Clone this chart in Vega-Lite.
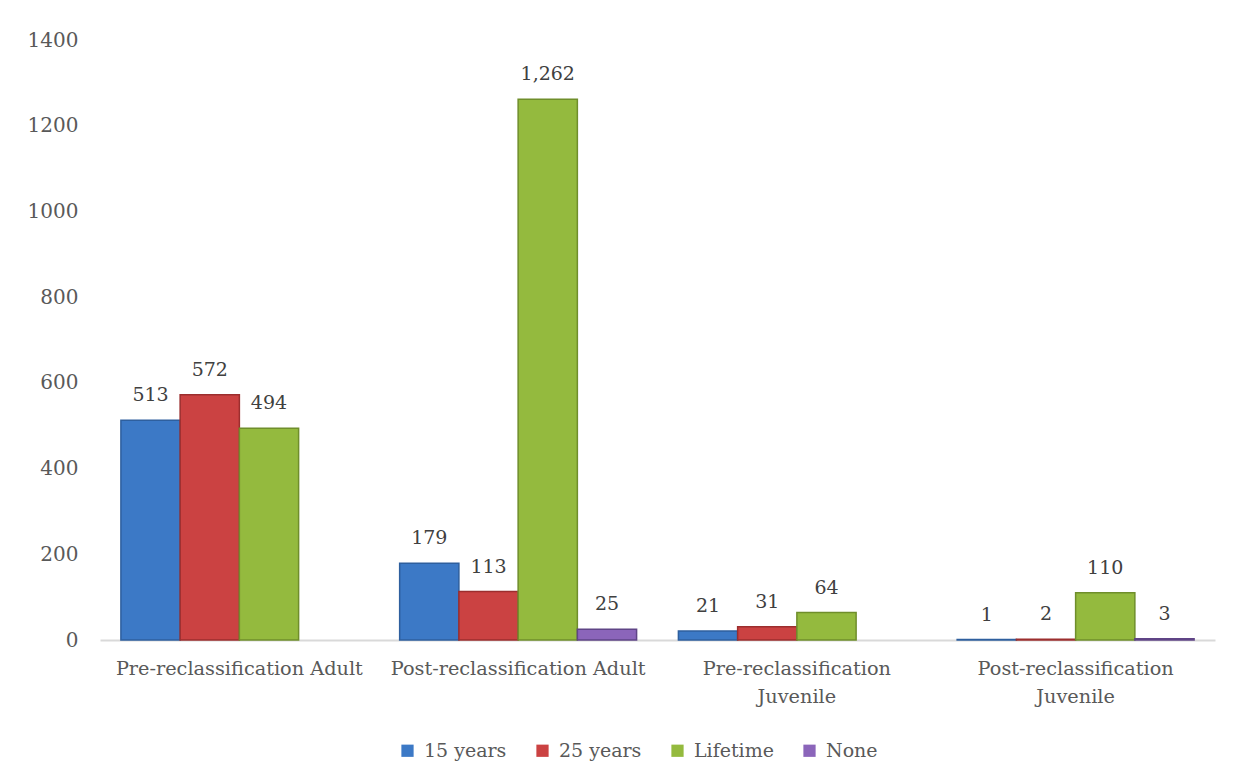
{
  "$schema": "https://vega.github.io/schema/vega-lite/v6.json",
  "autosize": {"type": "none"},
  "width": 1115,
  "height": 600,
  "padding": {"left": 100, "top": 40, "right": 20, "bottom": 141},
  "background": "white",
  "config": {
    "view": {"stroke": null}
  },
  "data": {
    "values": [
      {"category": "Pre-reclassification Adult", "series": "15 years", "value": 513},
      {"category": "Pre-reclassification Adult", "series": "25 years", "value": 572},
      {"category": "Pre-reclassification Adult", "series": "Lifetime", "value": 494},
      {"category": "Post-reclassification Adult", "series": "15 years", "value": 179},
      {"category": "Post-reclassification Adult", "series": "25 years", "value": 113},
      {"category": "Post-reclassification Adult", "series": "Lifetime", "value": 1262},
      {"category": "Post-reclassification Adult", "series": "None", "value": 25},
      {"category": "Pre-reclassification Juvenile", "series": "15 years", "value": 21},
      {"category": "Pre-reclassification Juvenile", "series": "25 years", "value": 31},
      {"category": "Pre-reclassification Juvenile", "series": "Lifetime", "value": 64},
      {"category": "Post-reclassification Juvenile", "series": "15 years", "value": 1},
      {"category": "Post-reclassification Juvenile", "series": "25 years", "value": 2},
      {"category": "Post-reclassification Juvenile", "series": "Lifetime", "value": 110},
      {"category": "Post-reclassification Juvenile", "series": "None", "value": 3}
    ]
  },
  "encoding": {
    "x": {
      "field": "category", "type": "nominal", "sort": null,
      "scale": {"paddingInner": 0.15, "paddingOuter": 0.075},
      "axis": {
        "title": null, "ticks": false, "grid": false,
        "labelAngle": 0, "domainColor": "#D9D9D9", "domainWidth": 2, "labelPadding": 19,
        "labelFont": "DejaVu Serif", "labelFontSize": 19.3, "labelColor": "#595959", "labelLimit": 400,
        "labelExpr": "indexof(datum.value, 'Juvenile') >= 0 ? split(datum.value, ' ') : datum.value",
        "labelLineHeight": 28
      }
    },
    "xOffset": {"field": "series", "type": "nominal", "scale": {"domain": ["15 years", "25 years", "Lifetime", "None"], "paddingInner": 0, "paddingOuter": 0}},
    "y": {
      "field": "value", "type": "quantitative",
      "scale": {"domain": [0, 1400], "nice": false},
      "axis": {
        "title": null, "ticks": false, "grid": false, "domain": false, "format": "d",
        "values": [0, 200, 400, 600, 800, 1000, 1200, 1400], "labelPadding": 22,
        "labelFont": "DejaVu Serif", "labelFontSize": 20, "labelColor": "#595959"
      }
    }
  },
  "layer": [
    {
      "mark": {"type": "bar", "strokeWidth": 1.5},
      "encoding": {
        "color": {
          "field": "series", "type": "nominal",
          "scale": {"domain": ["15 years", "25 years", "Lifetime", "None"], "range": ["#3C79C6", "#CB4242", "#94BA3E", "#8B65BA"]},
          "legend": {
            "orient": "none", "legendX": 298, "legendY": 701, "direction": "horizontal", "title": null,
            "symbolType": "square", "symbolSize": 150, "symbolOpacity": 1, "symbolStrokeWidth": 0,
            "columnPadding": 26, "labelOffset": 7,
            "labelFont": "DejaVu Serif", "labelFontSize": 19, "labelColor": "#595959"
          }
        },
        "stroke": {
          "field": "series", "type": "nominal",
          "scale": {"domain": ["15 years", "25 years", "Lifetime", "None"], "range": ["#2E5F9E", "#9C2E2E", "#6F8E2B", "#5F4486"]},
          "legend": null
        }
      }
    },
    {
      "mark": {"type": "text", "dy": -25, "fontSize": 19, "color": "#404040", "font": "DejaVu Serif"},
      "encoding": {"text": {"field": "value", "type": "quantitative", "format": ","}}
    }
  ]
}
